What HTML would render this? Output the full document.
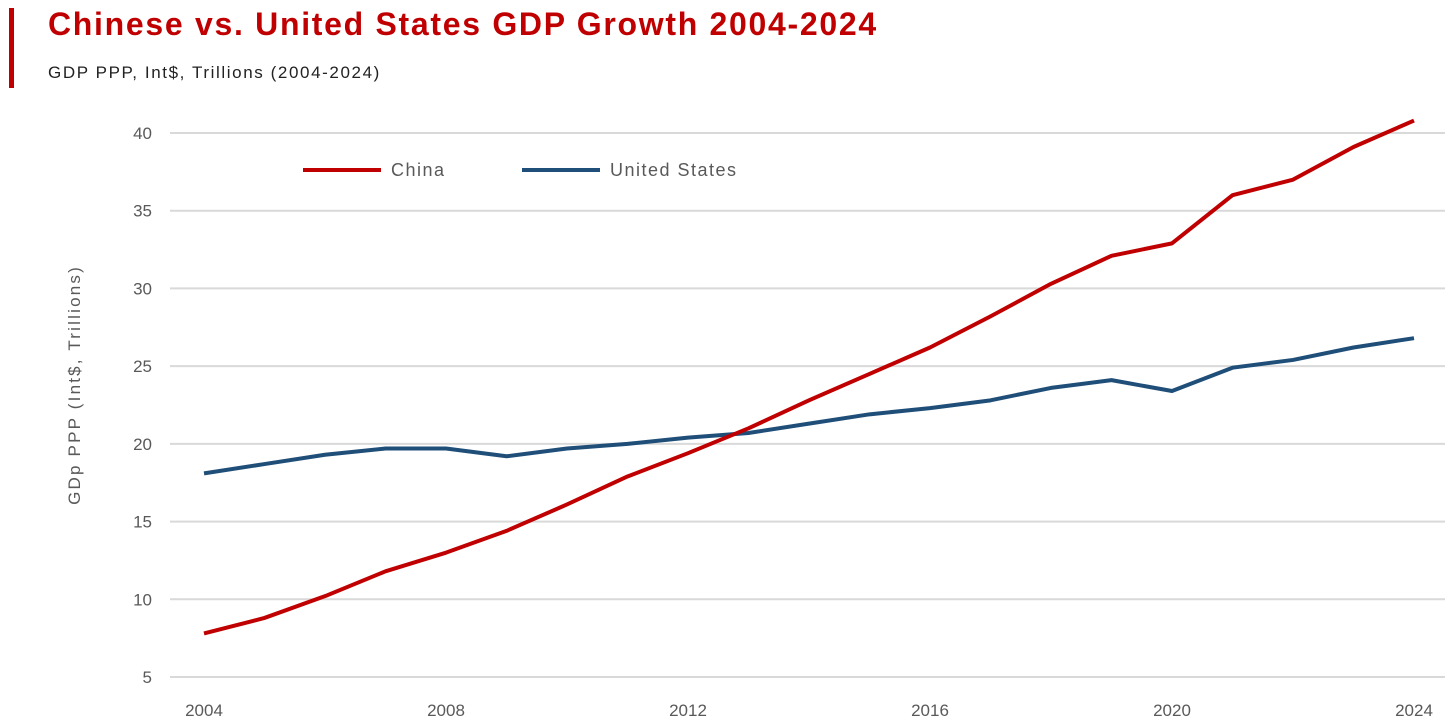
<!DOCTYPE html>
<html><head><meta charset="utf-8"><style>
body{margin:0;width:1456px;height:726px;background:#fff;overflow:hidden;font-family:"Liberation Sans",sans-serif}
</style></head><body>
<div style="position:absolute;left:9px;top:8px;width:5px;height:80px;background:#c00000"></div>
<div style="position:absolute;left:48px;top:6px;font-size:32px;font-weight:bold;color:#c00000;letter-spacing:1.7px">Chinese vs. United States GDP Growth 2004-2024</div>
<div style="position:absolute;left:48px;top:63px;font-size:17px;color:#222;letter-spacing:1.6px">GDP PPP, Int$, Trillions (2004-2024)</div>
<svg id="c" width="1456" height="726" style="position:absolute;left:0;top:0"></svg>
<script>
const years=[2004,2005,2006,2007,2008,2009,2010,2011,2012,2013,2014,2015,2016,2017,2018,2019,2020,2021,2022,2023,2024];
const china=[7.8,8.8,10.2,11.8,13.0,14.4,16.1,17.9,19.4,21.0,22.8,24.5,26.2,28.2,30.3,32.1,32.9,36.0,37.0,39.1,40.8];
const usa=[18.1,18.7,19.3,19.7,19.7,19.2,19.7,20.0,20.4,20.7,21.3,21.9,22.3,22.8,23.6,24.1,23.4,24.9,25.4,26.2,26.8];
const yTicks=[5,10,15,20,25,30,35,40];
const xTicks=[2004,2008,2012,2016,2020,2024];
const svg=document.getElementById('c');const NS='http://www.w3.org/2000/svg';
const x=v=>204+(v-2004)*60.5;const y=v=>677-(v-5)*(544/35);
function mk(t,a){const e=document.createElementNS(NS,t);for(const k in a)e.setAttribute(k,a[k]);svg.appendChild(e);return e;}
yTicks.forEach(t=>{
 const g=mk('line',{x1:170,x2:1445,y1:y(t),y2:y(t),stroke:'#d9d9d9','stroke-width':2});
 
 
 const l=mk('text',{x:152,y:y(t)+6,'text-anchor':'end','font-size':17,fill:'#595959','font-family':'Liberation Sans, sans-serif'});l.textContent=t;
 
 
});
xTicks.forEach(t=>{
 const l=mk('text',{x:x(t),y:716,'text-anchor':'middle','font-size':17,fill:'#595959','font-family':'Liberation Sans, sans-serif'});l.textContent=t;
 
 
});
const yt=mk('text',{x:0,y:0,transform:'translate(80,385) rotate(-90)','text-anchor':'middle','font-size':17,fill:'#595959','letter-spacing':'2.2','font-family':'Liberation Sans, sans-serif'});yt.textContent='GDp PPP (Int$, Trillions)';


function line(d,c,n){const p=mk('polyline',{points:d.map((v,i)=>x(years[i])+','+y(v)).join(' '),fill:'none',stroke:c,'stroke-width':4,'stroke-linejoin':'round'});
 
 }
line(usa,'#1f4e79','united-states-line');
line(china,'#c00000','china-line');
function leg(x0,c,t,n){const g=mk('line',{x1:x0,x2:x0+78,y1:170,y2:170,stroke:c,'stroke-width':4});
 
 
 const l=mk('text',{x:x0+88,y:176,'font-size':18,fill:'#595959','letter-spacing':'1.5','font-family':'Liberation Sans, sans-serif'});l.textContent=t;
 
 }
leg(303,'#c00000','China','china');
leg(522,'#1f4e79','United States','united-states');
</script>
</body></html>
